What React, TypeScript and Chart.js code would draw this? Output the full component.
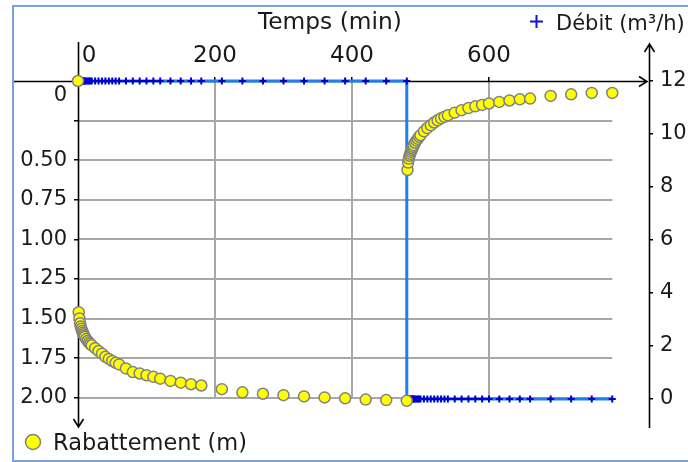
import React, { useEffect, useRef } from 'react';
import { Chart, registerables } from 'chart.js';

Chart.register(...registerables);

// Pumping phase: time (min) and drawdown (m)
const pumpTimes = [0, 1, 2, 3, 4, 5, 6, 7, 8, 9, 10, 12, 14, 16, 18, 20, 25, 30, 35, 40, 45, 50, 55, 60, 70, 80, 90, 100, 110, 120, 135, 150, 165, 180, 210, 240, 270, 300, 330, 360, 390, 420, 450, 480];
const pumpDrawdown = [0, 1.46, 1.5, 1.53, 1.55, 1.565, 1.578, 1.59, 1.6, 1.608, 1.616, 1.63, 1.642, 1.652, 1.661, 1.669, 1.687, 1.705, 1.722, 1.742, 1.755, 1.768, 1.78, 1.79, 1.815, 1.838, 1.847, 1.858, 1.868, 1.88, 1.894, 1.905, 1.915, 1.923, 1.946, 1.966, 1.975, 1.984, 1.992, 1.998, 2.004, 2.012, 2.015, 2.02];
const pumpFlow = [12, 12, 12, 12, 12, 12, 12, 12, 12, 12, 12, 12, 12, 12, 12, 12, 12, 12, 12, 12, 12, 12, 12, 12, 12, 12, 12, 12, 12, 12, 12, 12, 12, 12, 12, 12, 12, 12, 12, 12, 12, 12, 12, 12];

// Recovery phase: time (min) and residual drawdown (m)
const recoveryTimes = [480, 481, 482, 483, 484, 485, 486, 487, 488, 489, 490, 492, 494, 496, 498, 500, 505, 510, 515, 520, 525, 530, 535, 540, 550, 560, 570, 580, 590, 600, 615, 630, 645, 660, 690, 720, 750, 780];
const recoveryDrawdown = [null, 0.562, 0.515, 0.49, 0.472, 0.46, 0.447, 0.436, 0.426, 0.416, 0.405, 0.39, 0.377, 0.365, 0.352, 0.342, 0.318, 0.297, 0.28, 0.262, 0.248, 0.236, 0.226, 0.217, 0.2, 0.184, 0.171, 0.16, 0.151, 0.142, 0.132, 0.123, 0.116, 0.111, 0.094, 0.084, 0.075, 0.075];
const recoveryFlow = [0, 0, 0, 0, 0, 0, 0, 0, 0, 0, 0, 0, 0, 0, 0, 0, 0, 0, 0, 0, 0, 0, 0, 0, 0, 0, 0, 0, 0, 0, 0, 0, 0, 0, 0, 0, 0, 0];

// Axis tick values shown
const timeTickLabels = [0, 200, 400, 600];

const xTitle = 'Temps (min)';
const flowLabel = 'Débit (m³/h)';
const drawdownLabel = 'Rabattement (m)';

const FONT = 'DejaVu Sans';

const decorPlugin = {
  id: 'decor',
  beforeDatasetsDraw(chart: any) {
    const { ctx, chartArea: ca, scales } = chart;
    const x = scales.x, y = scales.y;
    ctx.save();
    // grid
    const gridEnd = recoveryTimes[recoveryTimes.length - 1];
    const yTicks = y.ticks.map((t: any) => t.value);
    const yMaxTick = Math.max(...yTicks);
    const x0 = x.getPixelForValue(0);
    const x1 = x.getPixelForValue(gridEnd);
    ctx.strokeStyle = '#a8a8a8';
    ctx.lineWidth = 2;
    yTicks.forEach((v: number) => {
      if (v <= 0) return;
      const py = Math.round(y.getPixelForValue(v));
      ctx.beginPath();
      ctx.moveTo(x0, py);
      ctx.lineTo(x1, py);
      ctx.stroke();
    });
    timeTickLabels.forEach((v: number) => {
      if (v <= 0 || v > gridEnd) return;
      const px = Math.round(x.getPixelForValue(v));
      ctx.beginPath();
      ctx.moveTo(px, y.getPixelForValue(0));
      ctx.lineTo(px, y.getPixelForValue(yMaxTick));
      ctx.stroke();
    });
    // axes
    ctx.strokeStyle = '#000';
    ctx.lineWidth = 1.6;
    const ay = Math.round(y.getPixelForValue(0)) + 0.5;
    const axR = ca.right - 2;
    ctx.beginPath();
    ctx.moveTo(13, ay);
    ctx.lineTo(axR, ay);
    ctx.moveTo(axR - 8, ay - 5);
    ctx.lineTo(axR, ay);
    ctx.lineTo(axR - 8, ay + 5);
    ctx.stroke();
    const lx = Math.round(x0) + 0.5;
    const lb = ca.bottom;
    ctx.beginPath();
    ctx.moveTo(lx, ca.top - 39);
    ctx.lineTo(lx, lb);
    ctx.moveTo(lx - 5, lb - 8);
    ctx.lineTo(lx, lb);
    ctx.lineTo(lx + 5, lb - 8);
    ctx.stroke();
    const rx = Math.round(ca.right) + 0.5;
    const rt = ca.top - 37;
    ctx.beginPath();
    ctx.moveTo(rx, ca.bottom + 1);
    ctx.lineTo(rx, rt);
    ctx.moveTo(rx - 5, rt + 8);
    ctx.lineTo(rx, rt);
    ctx.lineTo(rx + 5, rt + 8);
    ctx.stroke();
    ctx.restore();
  },
  afterDraw(chart: any) {
    const { ctx } = chart;
    ctx.save();
    // frame
    ctx.strokeStyle = '#7ba3d8';
    ctx.lineWidth = 2;
    ctx.strokeRect(13, 6, 700, 455);
    // titles / legends
    ctx.fillStyle = '#1a1a1a';
    ctx.textBaseline = 'alphabetic';
    ctx.textAlign = 'left';
    ctx.font = `23.3px "${FONT}"`;
    ctx.fillText(xTitle, 258, 29);
    ctx.font = `21px "${FONT}"`;
    ctx.fillText(flowLabel, 556, 30);
    ctx.font = `22.5px "${FONT}"`;
    ctx.fillText(drawdownLabel, 53, 450);
    // flow marker
    ctx.strokeStyle = '#1515c8';
    ctx.lineWidth = 2;
    ctx.beginPath();
    ctx.moveTo(530, 21.5);
    ctx.lineTo(543, 21.5);
    ctx.moveTo(536.5, 15);
    ctx.lineTo(536.5, 28);
    ctx.stroke();
    // drawdown marker
    ctx.fillStyle = '#ffff00';
    ctx.strokeStyle = '#808080';
    ctx.lineWidth = 1.5;
    ctx.beginPath();
    ctx.arc(33, 442, 7.5, 0, Math.PI * 2);
    ctx.fill();
    ctx.stroke();
    ctx.restore();
  },
};

export default function App() {
  const ref = useRef<HTMLCanvasElement | null>(null);
  useEffect(() => {
    if (!ref.current) return;
    Chart.defaults.font.family = FONT;
    Chart.defaults.font.size = 21;
    Chart.defaults.color = '#1a1a1a';

    const drawdownPts: any[] = [];
    pumpTimes.forEach((t, i) => drawdownPts.push({ x: t, y: pumpDrawdown[i] }));
    recoveryTimes.forEach((t, i) => {
      if (recoveryDrawdown[i] !== null) drawdownPts.push({ x: t, y: recoveryDrawdown[i] });
    });
    const flowPts: any[] = [];
    pumpTimes.forEach((t, i) => flowPts.push({ x: t, y: pumpFlow[i] }));
    recoveryTimes.forEach((t, i) => flowPts.push({ x: t, y: recoveryFlow[i] }));

    const chart = new Chart(ref.current, {
      type: 'scatter',
      data: {
        datasets: [
          {
            label: drawdownLabel,
            data: drawdownPts,
            yAxisID: 'y',
            showLine: false,
            pointRadius: 5.5,
            pointBackgroundColor: '#ffff00',
            pointBorderColor: '#808080',
            pointBorderWidth: 1.5,
            clip: false,
          } as any,
          {
            label: flowLabel,
            data: flowPts,
            yAxisID: 'y1',
            showLine: true,
            borderColor: '#1e80ea',
            borderWidth: 3,
            pointStyle: 'cross',
            pointRadius: 3.5,
            pointBorderColor: '#0000cc',
            pointBackgroundColor: '#0000cc',
            pointBorderWidth: 2,
            tension: 0,
            clip: false,
          } as any,
        ],
      },
      options: {
        animation: false,
        responsive: false,
        devicePixelRatio: 1,
        layout: { padding: { left: 0, right: 0, top: 0, bottom: 35 } },
        plugins: { legend: { display: false }, tooltip: { enabled: false } },
        scales: {
          x: {
            type: 'linear',
            position: 'top',
            min: 0,
            max: 833.6,
            afterFit: (s: any) => { s.height = 81; },
            border: { display: false },
            grid: { drawOnChartArea: false, tickLength: 4, color: '#000', lineWidth: 1.5 },
            ticks: {
              stepSize: 100,
              includeBounds: false,
              autoSkip: false,
              padding: 7,
              maxRotation: 0,
              font: { size: 23 },
              callback: (v: any) => (timeTickLabels.includes(v) ? (v === 0 ? '   0' : String(v)) : null),
            },
          },
          y: {
            type: 'linear',
            position: 'left',
            reverse: true,
            min: 0,
            max: 2.185,
            afterFit: (s: any) => { s.width = 78; },
            border: { display: false },
            grid: { drawOnChartArea: false, tickLength: 4, color: '#000', lineWidth: 1.5 },
            ticks: {
              stepSize: 0.25,
              includeBounds: false,
              autoSkip: false,
              padding: 7,
              font: { size: 21, lineHeight: 1.35 },
              callback: (v: any) => (v === 0 ? ['', '0'] : Math.abs(v - 0.25) < 1e-6 ? '' : Number(v).toFixed(2)),
            },
          },
          y1: {
            type: 'linear',
            position: 'right',
            min: -1.057,
            max: 12,
            afterFit: (s: any) => { s.width = 39; },
            border: { display: false },
            grid: { drawOnChartArea: false, tickLength: 4, color: '#000', lineWidth: 1.5 },
            ticks: {
              stepSize: 2,
              includeBounds: false,
              autoSkip: false,
              padding: 7,
              callback: (v: any) => String(v),
            },
          },
        },
      },
      plugins: [decorPlugin],
    } as any);
    return () => chart.destroy();
  }, []);

  return (
    <div style={{ position: 'absolute', left: 0, top: 0, width: 688, height: 462, background: '#fff' }}>
      <canvas ref={ref} width={688} height={462} style={{ display: 'block' }} />
    </div>
  );
}
